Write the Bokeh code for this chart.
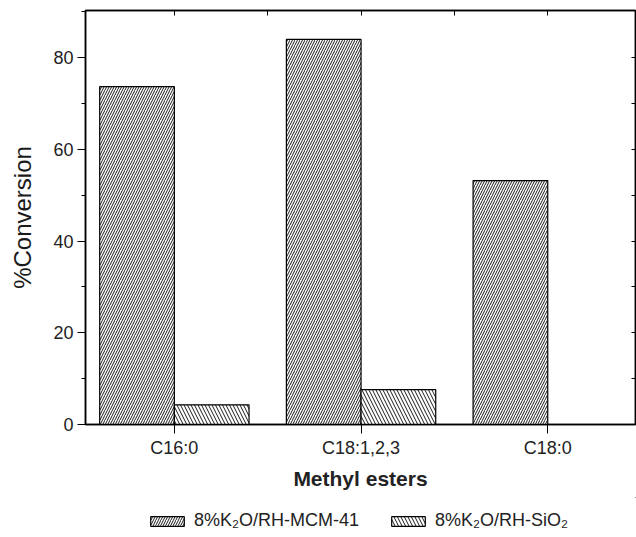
from bokeh.plotting import figure
from bokeh.layouts import column
from bokeh.models import (ColumnDataSource, Range1d, LinearAxis, FixedTicker,
                          Legend, LegendItem)
from bokeh.embed import file_html
from bokeh.resources import INLINE

categories = ["C16:0", "C18:1,2,3", "C18:0"]
mcm41 = [73.7, 84.0, 53.2]
sio2 = [4.3, 7.6, 0.0]
series_names = ["8%K\u2082O/RH-MCM-41", "8%K\u2082O/RH-SiO\u2082"]
y_ticks = [0, 20, 40, 60, 80]
y_minor = [10, 30, 50, 70, 90]

pos = [i + 1 for i in range(len(categories))]
src = ColumnDataSource(dict(
    x_mcm=[p - 0.2 for p in pos], x_sio=[p + 0.2 for p in pos],
    mcm=mcm41, sio=sio2))

FONT = "Liberation Sans"
MCM_STYLE = dict(fill_color="white", line_color="black", line_width=1.2,
                 hatch_pattern="/", hatch_scale=5, hatch_weight=1,
                 hatch_color="#1a1a1a")
SIO_STYLE = dict(fill_color="white", line_color="black", line_width=1.2,
                 hatch_pattern="\\", hatch_scale=7, hatch_weight=1,
                 hatch_color="#1a1a1a")

p = figure(width=636, height=497, output_backend="svg", toolbar_location=None,
           x_range=Range1d(0.524, 3.47), y_range=Range1d(0, 90.3),
           min_border_left=85, min_border_right=1, min_border_top=10,
           min_border_bottom=73, x_axis_location=None, y_axis_location=None)
p.grid.visible = False
p.outline_line_color = "black"
p.outline_line_width = 1.5

p.vbar(x="x_mcm", top="mcm", bottom=0, width=0.4, source=src, **MCM_STYLE)
p.vbar(x="x_sio", top="sio", bottom=0, width=0.4, source=src, **SIO_STYLE)

# left axis
yl = LinearAxis(ticker=FixedTicker(ticks=y_ticks, minor_ticks=y_minor),
                axis_label="%Conversion")
yl.major_tick_out = 8
yl.major_tick_in = 0
yl.minor_tick_out = 4
yl.minor_tick_in = 0
yl.major_label_standoff = 4
yl.axis_label_standoff = 14
yl.major_label_text_font = FONT
yl.major_label_text_font_size = "18px"
yl.major_label_text_color = "#222222"
yl.axis_label_text_font = FONT
yl.axis_label_text_font_size = "24px"
yl.axis_label_text_font_style = "normal"
yl.axis_label_text_color = "#1a1a1a"
yl.axis_line_width = 1.5
p.add_layout(yl, "left")

# bottom axis
xb = LinearAxis(ticker=FixedTicker(ticks=pos), axis_label="Methyl esters")
xb.major_label_overrides = {pp: c for pp, c in zip(pos, categories)}
xb.major_tick_out = 9
xb.major_tick_in = 0
xb.minor_tick_out = 0
xb.major_label_standoff = 4
xb.axis_label_standoff = 6
xb.major_label_text_font = FONT
xb.major_label_text_font_size = "18px"
xb.major_label_text_color = "#222222"
xb.axis_label_text_font = FONT
xb.axis_label_text_font_size = "21px"
xb.axis_label_text_font_style = "bold"
xb.axis_label_text_color = "#222222"
xb.axis_line_width = 1.5
p.add_layout(xb, "below")

# top axis (ticks only)
xt = LinearAxis(ticker=FixedTicker(ticks=[1, 1.5, 2, 2.5, 3]))
xt.major_tick_in = 5
xt.major_tick_out = 0
xt.minor_tick_out = 0
xt.major_label_text_font_size = "1px"
xt.major_label_text_color = None
xt.major_label_standoff = 0
xt.axis_line_width = 1.5
p.add_layout(xt, "above")

# right axis (ticks only)
yr = LinearAxis(ticker=FixedTicker(ticks=[10, 20, 30, 40, 50, 60, 70, 80]))
yr.major_tick_in = 4
yr.major_tick_out = 0
yr.minor_tick_out = 0
yr.major_label_text_font_size = "1px"
yr.major_label_text_color = None
yr.major_label_standoff = 0
yr.axis_line_width = 1.5
p.add_layout(yr, "right")

# legend strip (its frame is aligned with the main frame by the column)
p2 = figure(width=636, height=40, output_backend="svg", toolbar_location=None,
            x_range=Range1d(0, 1), y_range=Range1d(0, 1),
            min_border=0, x_axis_location=None, y_axis_location=None)
p2.grid.visible = False
p2.outline_line_color = None
offscreen = ColumnDataSource(dict(x=[50.0], top=[60.0], bottom=[55.0]))
l1 = p2.vbar(x="x", top="top", bottom="bottom", width=0.1, source=offscreen,
             **MCM_STYLE)
l2 = p2.vbar(x="x", top="top", bottom="bottom", width=0.1, source=offscreen,
             **SIO_STYLE)

legend = Legend(items=[LegendItem(label=series_names[0], renderers=[l1]),
                       LegendItem(label=series_names[1], renderers=[l2])],
                orientation="horizontal", location=(61, 6),
                glyph_width=42, glyph_height=12, label_standoff=6,
                spacing=28, padding=4, margin=0, border_line_color=None,
                label_text_font=FONT, label_text_font_size="18px",
                label_text_color="#222222",
                background_fill_alpha=0)
p2.add_layout(legend, "center")

layout = column(p, p2, spacing=0)
open("out.html", "w").write(file_html(layout, INLINE))
